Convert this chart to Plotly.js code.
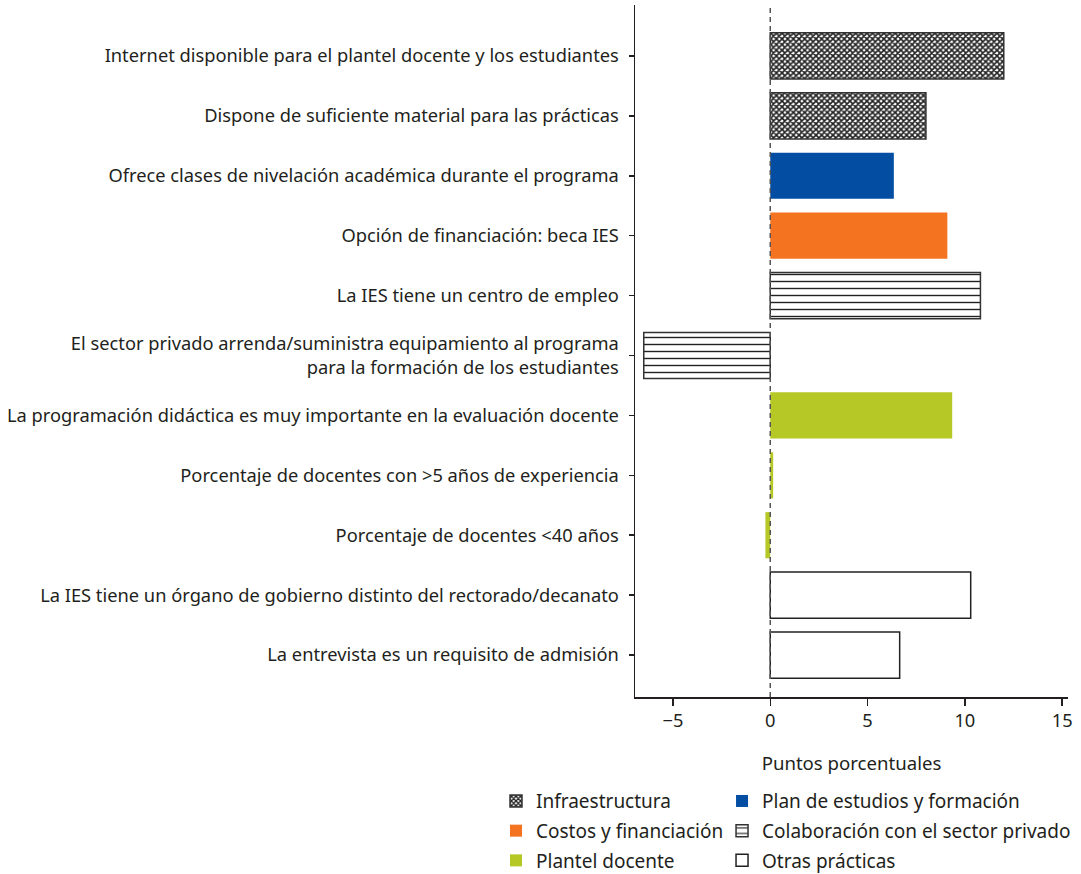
<!DOCTYPE html>
<html>
<head>
<meta charset="utf-8">
<script src="https://cdn.plot.ly/plotly-3.0.1.min.js"></script>
<style>html,body{margin:0;padding:0;background:#fff;}</style>
</head>
<body>
<div id="chart" style="width:1081px;height:874px;"></div>
<script>
// Categories, top to bottom
const categories = [
  "Internet disponible para el plantel docente y los estudiantes",
  "Dispone de suficiente material para las prácticas",
  "Ofrece clases de nivelación académica durante el programa",
  "Opción de financiación: beca IES",
  "La IES tiene un centro de empleo",
  "El sector privado arrenda/suministra equipamiento al programa<br>para la formación de los estudiantes",
  "La programación didáctica es muy importante en la evaluación docente",
  "Porcentaje de docentes con &gt;5 años de experiencia",
  "Porcentaje de docentes &lt;40 años",
  "La IES tiene un órgano de gobierno distinto del rectorado/decanato",
  "La entrevista es un requisito de admisión"
];

// Series (category index -> value, puntos porcentuales)
const infraCats = [0, 1];           const infraVals = [12.0, 8.0];
const planCats = [2];               const planVals = [6.35];
const costosCats = [3];             const costosVals = [9.1];
const colabCats = [4, 5];           const colabVals = [10.8, -6.5];
const plantelCats = [6, 7, 8];      const plantelVals = [9.35, 0.15, -0.25];
const otrasCats = [9, 10];          const otrasVals = [10.3, 6.65];

const xTicks = [-5, 0, 5, 10, 15];

const ink = '#231f20';
const FONT = '"Noto Sans", "Open Sans", sans-serif';
const FS = 18.3;
const FS_LEG = 19;
const FS_TITLE = 18.6;

function mk(name, cats, vals, marker, legend, group) {
  return {
    type: 'bar', orientation: 'h', name: name,
    y: cats.map(i => categories[i]), x: vals,
    width: 0.77, marker: marker, legend: legend, legendgroup: group,
    hoverinfo: 'x+y'
  };
}

const traces = [
  mk('Infraestructura', infraCats, infraVals,
     {color: '#ffffff', line: {color: '#333333', width: 1.5},
      pattern: {shape: 'x', size: 4, solidity: 0.65, fgcolor: '#222222', bgcolor: '#ffffff'}}, 'legend', 'g1'),
  mk('Costos y financiación', costosCats, costosVals,
     {color: '#f37321', line: {width: 0}}, 'legend', 'g2'),
  mk('Plantel docente', plantelCats, plantelVals,
     {color: '#b5c826', line: {width: 0}}, 'legend', 'g3'),
  mk('Plan de estudios y formación', planCats, planVals,
     {color: '#034ea2', line: {width: 0}}, 'legend2', 'g4'),
  mk('Colaboración con el sector privado', colabCats, colabVals,
     {color: '#ffffff', line: {color: '#333333', width: 1.5},
      pattern: {shape: '-', size: 7, solidity: 0.2, fgcolor: '#222222', bgcolor: '#ffffff'}}, 'legend2', 'g5'),
  mk('Otras prácticas', otrasCats, otrasVals,
     {color: '#ffffff', line: {color: '#222222', width: 1.5}}, 'legend2', 'g6')
];

const legendCommon = {
  orientation: 'v', font: {family: FONT, size: FS_LEG, color: ink},
  bgcolor: 'rgba(0,0,0,0)', tracegroupgap: 2, itemwidth: 30,
  yanchor: 'top', xanchor: 'left', traceorder: 'grouped', itemclick: false
};

const layout = {
  width: 1081, height: 874,
  margin: {l: 635, r: 13, t: 5, b: 177, autoexpand: false},
  paper_bgcolor: '#ffffff', plot_bgcolor: '#ffffff',
  font: {family: FONT, size: FS, color: ink},
  barmode: 'overlay',
  showlegend: true,
  legend: Object.assign({}, legendCommon, {x: -0.321, y: -0.123}),
  legend2: Object.assign({}, legendCommon, {x: 0.201, y: -0.123}),
  xaxis: {
    range: [-6.95, 15.3], tickvals: xTicks, ticktext: xTicks.map(v => v < 0 ? '\u2212' + Math.abs(v) : String(v)),
    showgrid: false, zeroline: false, showline: true, linecolor: ink, linewidth: 1.5,
    ticks: 'outside', ticklen: 7, tickwidth: 1.5, tickcolor: ink,
    tickfont: {family: FONT, size: FS, color: ink},
    title: {text: 'Puntos porcentuales', font: {family: FONT, size: FS_TITLE, color: ink}, standoff: 25}
  },
  yaxis: {
    type: 'category', categoryorder: 'array', categoryarray: categories,
    range: [10.7, -0.85],
    showgrid: false, zeroline: false, showline: true, linecolor: ink, linewidth: 1.5,
    ticks: 'outside', ticklen: 5, tickwidth: 1.5, tickcolor: ink,
    ticklabelstandoff: 6,
    tickfont: {family: FONT, size: FS, color: ink}
  },
  shapes: [{
    type: 'line', xref: 'x', yref: 'paper', x0: 0, x1: 0, y0: 0, y1: 1,
    line: {color: '#555555', width: 1.5, dash: '5px,4px'}, layer: 'above'
  }]
};

Plotly.newPlot('chart', traces, layout, {displayModeBar: false, staticPlot: true});
</script>
</body>
</html>
